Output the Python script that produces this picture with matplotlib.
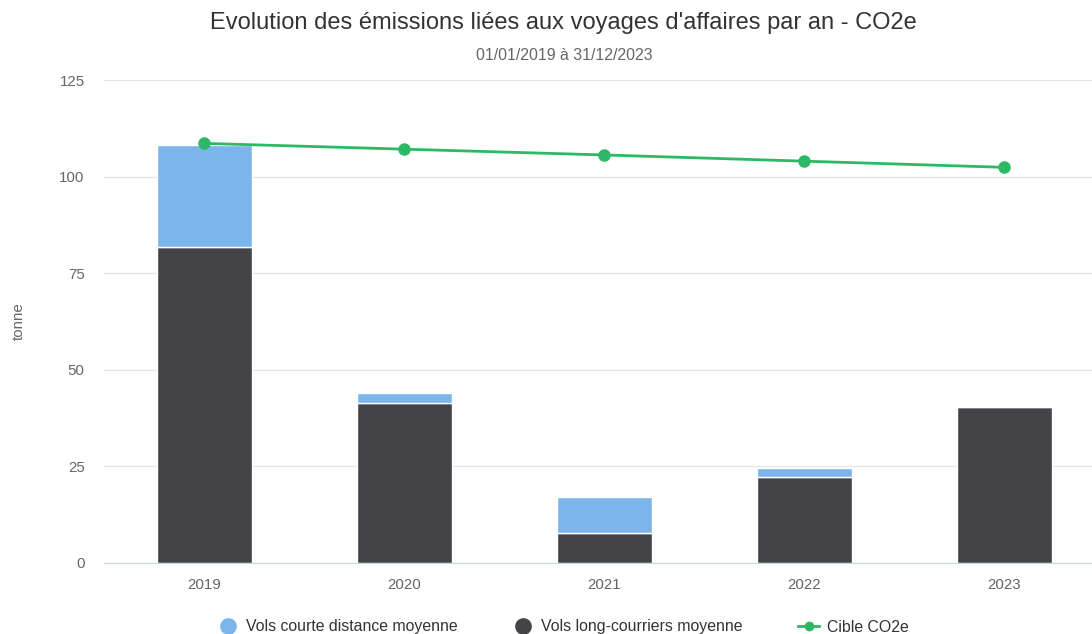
import matplotlib
matplotlib.use("Agg")
import matplotlib.pyplot as plt
from matplotlib.lines import Line2D
import numpy as np

years = ["2019", "2020", "2021", "2022", "2023"]
long_haul = [81.8, 41.3, 7.8, 22.3, 40.4]
short_haul = [26.4, 2.8, 9.4, 2.4, 0.0]
target = [108.6, 107.1, 105.6, 104.0, 102.4]
yticks = [0, 25, 50, 75, 100, 125]

C_SHORT = "#7cb5ec"
C_LONG = "#434348"
C_TARGET = "#2db866"

plt.rcParams['font.family'] = ['Liberation Sans', 'DejaVu Sans']

W, H = 1092, 634
fig = plt.figure(figsize=(W / 100, H / 100), dpi=100)
ax = fig.add_axes([104 / W, 71 / H, 1000 / W, 483 / H])

x = np.arange(len(years))
bw = 0.475
ax.bar(x, long_haul, width=bw, color=C_LONG, edgecolor="white", linewidth=1, zorder=2)
ax.bar(x, short_haul, width=bw, bottom=long_haul, color=C_SHORT, edgecolor="white", linewidth=1, zorder=2)
ax.plot(x, target, color=C_TARGET, linewidth=2, marker="o", markersize=8, zorder=3)

ax.set_xlim(-0.5, len(years) - 0.5)
ax.set_ylim(0, 125)
ax.set_yticks(yticks)
ax.set_yticklabels([str(t) for t in yticks])
ax.set_xticks(x)
ax.set_xticklabels(years)
ax.grid(axis="y", color="#e6e6e6", linewidth=1, zorder=0)
ax.set_axisbelow(True)
for s in ["top", "right", "left"]:
    ax.spines[s].set_visible(False)
ax.spines["bottom"].set_color("#ccd6eb")
ax.tick_params(axis="y", length=0, pad=14, labelsize=10.8, labelcolor="#666666")
ax.tick_params(axis="x", length=0, pad=11, labelsize=10.8, labelcolor="#666666")
ax.set_ylabel("tonne", fontsize=10.8, color="#666666", labelpad=24)

fig.text(563 / W, 1 - 23 / H, "Evolution des émissions liées aux voyages d'affaires par an - CO2e",
         ha="center", va="center", fontsize=17, color="#333333")
fig.text(564 / W, 1 - 55 / H, "01/01/2019 à 31/12/2023",
         ha="center", va="center", fontsize=11.4, color="#666666")

handles = [
    Line2D([], [], linestyle="none", marker="o", markersize=11, color=C_SHORT),
    Line2D([], [], linestyle="none", marker="o", markersize=11, color=C_LONG),
    Line2D([], [], color=C_TARGET, linewidth=2, marker="o", markersize=6),
]
labels = ["Vols courte distance moyenne", "Vols long-courriers moyenne", "Cible CO2e"]
fig.legend(handles, labels, loc="center", bbox_to_anchor=(563 / W, 1 - 627 / H), ncol=3,
           frameon=False, fontsize=11.4, labelcolor="#333333", columnspacing=3.5,
           handlelength=1.3, handletextpad=0.5)

fig.savefig("out.png", dpi=100)
